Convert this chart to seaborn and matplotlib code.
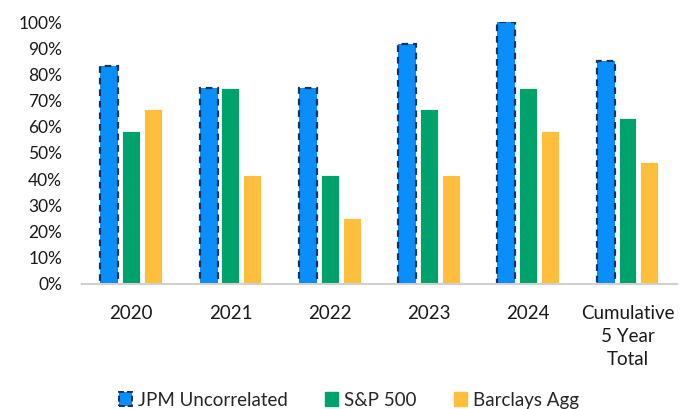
import matplotlib
matplotlib.use("Agg")
import matplotlib.pyplot as plt
import seaborn as sns
import pandas as pd
from matplotlib.ticker import PercentFormatter
from matplotlib.patches import Patch

categories = ["2020", "2021", "2022", "2023", "2024", "Cumulative\n5 Year\nTotal"]
series_names = ["JPM Uncorrelated", "S&P 500", "Barclays Agg"]
jpm = [0.833, 0.75, 0.75, 0.917, 1.00, 0.85]
sp500 = [0.583, 0.75, 0.417, 0.667, 0.75, 0.633]
barclays = [0.667, 0.417, 0.25, 0.417, 0.583, 0.467]

colors = ["#0A8FFA", "#00A26B", "#FFBE3B"]
edge_dark = "#17325E"

df = pd.DataFrame({
    "cat": categories * 3,
    "series": [series_names[0]] * 6 + [series_names[1]] * 6 + [series_names[2]] * 6,
    "val": jpm + sp500 + barclays,
})

sns.set_theme(style="white")
plt.rcParams["font.family"] = ["Lato", "DejaVu Sans"]

fig = plt.figure(figsize=(6.91, 4.09), dpi=100)
ax = fig.add_axes([0.118, 0.306, 0.862, 0.64])

sns.barplot(data=df, x="cat", y="val", hue="series", palette=colors,
            width=0.66, gap=0.18, ax=ax, saturation=1, legend=False)

# dashed border on JPM bars
for p in ax.containers[0]:
    p.set_edgecolor(edge_dark)
    p.set_linestyle((0, (3, 2.2)))
    p.set_linewidth(1.6)
for c in ax.containers[1:]:
    for p in c:
        p.set_edgecolor("white")
        p.set_linewidth(0.6)

ax.set_ylim(0, 1.0)
ax.set_yticks([i / 10 for i in range(11)])
ax.yaxis.set_major_formatter(PercentFormatter(1.0, decimals=0))
ax.set_xlabel("")
ax.set_ylabel("")
for s in ["top", "right", "left"]:
    ax.spines[s].set_visible(False)
ax.spines["bottom"].set_color("#D0D0D0")
ax.spines["bottom"].set_linewidth(1.5)
ax.tick_params(axis="y", labelsize=12.5, length=0, pad=14, colors="#1a1a1a")
ax.tick_params(axis="x", labelsize=13.5, length=0, pad=15, colors="#1a1a1a")
for t in ax.get_xticklabels():
    t.set_linespacing(1.45)
    t.set_verticalalignment("top")

handles = [
    Patch(facecolor=colors[0], edgecolor=edge_dark, linestyle=(0, (3, 1.5)), linewidth=1.4),
    Patch(facecolor=colors[1], edgecolor=colors[1]),
    Patch(facecolor=colors[2], edgecolor=colors[2]),
]
fig.legend(handles, series_names, loc="center", bbox_to_anchor=(0.505, 0.022), ncol=3,
           frameon=False, fontsize=13.5, handlelength=0.7, handleheight=0.7,
           handletextpad=0.3, columnspacing=2.0)

fig.savefig("out.png", dpi=100)
